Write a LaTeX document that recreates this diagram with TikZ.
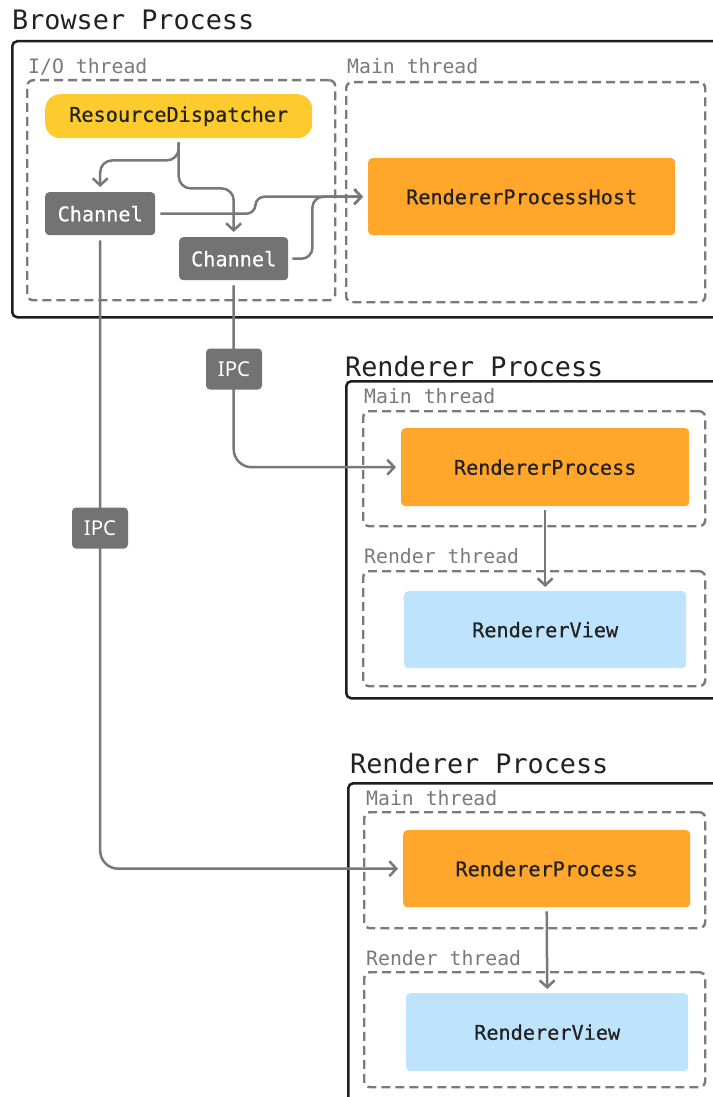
\documentclass[tikz,border=0pt]{standalone}
\usepackage{fontspec}
\newfontfamily\monof{DejaVu Sans Mono}
\newfontfamily\monomf[FakeBold=0.6]{DejaVu Sans Mono}
\newfontfamily\sansf{Noto Sans}
\usetikzlibrary{arrows.meta}
\definecolor{orangebox}{HTML}{FFA62B}
\definecolor{yellowbox}{HTML}{FECB2E}
\definecolor{bluebox}{HTML}{BEE3FC}
\definecolor{graybox}{HTML}{737373}
\definecolor{conngray}{HTML}{787878}
\definecolor{dashgray}{HTML}{7A7A7A}
\definecolor{darktext}{HTML}{222222}
\definecolor{framec}{HTML}{1E1E1E}
\tikzset{
  procbox/.style={draw=framec, line width=2.5pt, rounded corners=5pt, anchor=north west, inner sep=0pt},
  thrbox/.style={draw=dashgray, line width=2.4pt, dash pattern=on 9pt off 5pt, rounded corners=6pt, anchor=north west, inner sep=0pt},
  title/.style={anchor=base west, inner sep=0pt, text=darktext, font=\monof\fontsize{26.8}{30}\selectfont},
  thrlabel/.style={anchor=base west, inner sep=0pt, text=dashgray, font=\monof\fontsize{19.8}{22}\selectfont},
  comp/.style={anchor=north west, inner sep=0pt, text=darktext, font=\monomf\fontsize{20.2}{24}\selectfont, rounded corners=4pt},
  chan/.style={comp, fill=graybox, text=white},
  ipc/.style={fill=graybox, text=white, inner sep=0pt, minimum width=56pt, minimum height=41pt, rounded corners=4pt, font=\sansf\fontsize{20.5}{24}\selectfont},
  conn/.style={draw=conngray, line width=2.5pt, -{Straight Barb[length=7pt,width=15pt]}, rounded corners=12pt},
}
\begin{document}
\begin{tikzpicture}[x=1pt,y=1pt]
\useasboundingbox (0,0) rectangle (712,-1097);
\fill[white] (0,0) rectangle (712,-1097);

% Browser process
\node[title] (bptitle) at (12,-30) {Browser Process};
\node[procbox, minimum width=712pt, minimum height=276pt] (bp) at (11,-40) {};
\node[thrlabel] (iolabel) at (28,-74) {I/O thread};
\node[thrbox, minimum width=308pt, minimum height=220pt] (io) at (26,-79) {};
\node[thrlabel] (bmlabel) at (347,-74) {Main thread};
\node[thrbox, minimum width=359pt, minimum height=220pt] (bm) at (345,-81) {};

\node[comp, fill=yellowbox, rounded corners=15pt, minimum width=267pt, minimum height=44pt] (rd) at (45,-94) {ResourceDispatcher};
\node[chan, minimum width=110pt, minimum height=43pt] (ch1) at (45,-192) {Channel};
\node[chan, minimum width=109pt, minimum height=43pt] (ch2) at (179,-237) {Channel};
\node[comp, fill=orangebox, minimum width=307pt, minimum height=77pt] (rph) at (368,-158) {RendererProcessHost};

% Renderer process 1
\node[title] (r1title) at (345,-376) {Renderer Process};
\node[procbox, minimum width=380pt, minimum height=317pt] (r1) at (345,-380) {};
\node[thrlabel] (r1mlabel) at (364,-403) {Main thread};
\node[thrbox, minimum width=342pt, minimum height=115pt] (r1m) at (362,-410) {};
\node[comp, fill=orangebox, minimum width=288pt, minimum height=78pt] (rp1) at (401,-428) {RendererProcess};
\node[thrlabel] (r1rlabel) at (364,-563) {Render thread};
\node[thrbox, minimum width=342pt, minimum height=115pt] (r1r) at (362,-570) {};
\node[comp, fill=bluebox, minimum width=282pt, minimum height=77pt] (rv1) at (404,-591) {RendererView};

% Renderer process 2
\node[title] (r2title) at (350,-773) {Renderer Process};
\node[procbox, minimum width=380pt, minimum height=330pt] (r2) at (347,-782) {};
\node[thrlabel] (r2mlabel) at (366,-805) {Main thread};
\node[thrbox, minimum width=341pt, minimum height=116pt] (r2m) at (363,-811) {};
\node[comp, fill=orangebox, minimum width=287pt, minimum height=77pt] (rp2) at (403,-830) {RendererProcess};
\node[thrlabel] (r2rlabel) at (366,-965) {Render thread};
\node[thrbox, minimum width=341pt, minimum height=115pt] (r2r) at (363,-971) {};
\node[comp, fill=bluebox, minimum width=282pt, minimum height=78pt] (rv2) at (406,-993) {RendererView};

% connectors
\draw[conn, shorten <=4pt, shorten >=5pt] (rd.south) -- ++(0,-22) -| (ch1.north);
\draw[conn, shorten <=4pt, shorten >=5pt] (rd.south) -- ++(0,-50) -| (ch2.north);
\draw[conn, rounded corners=9pt, shorten <=5pt, shorten >=5pt] (ch1.east) -- ([xshift=100pt]ch1.east) |- (rph.west);
\draw[conn, rounded corners=11pt, shorten <=4pt, shorten >=5pt] (ch2.east) -- ([xshift=24pt]ch2.east) |- (rph.west);
\draw[conn, rounded corners=18pt, shorten <=5pt, shorten >=5pt] (ch2.south) |- (rp1.west);
\draw[conn, rounded corners=18pt, shorten <=5pt, shorten >=5pt] (ch1.south) |- (rp2.west);
\draw[conn, shorten <=4pt, shorten >=4pt] (rp1.south) -- (rv1.north);
\draw[conn, shorten <=4pt, shorten >=4pt] (rp2.south) -- (rv2.north);

\node[ipc] (ipc1) at (234,-369) {IPC};
\node[ipc] (ipc2) at (100,-528) {IPC};
\end{tikzpicture}
\end{document}
